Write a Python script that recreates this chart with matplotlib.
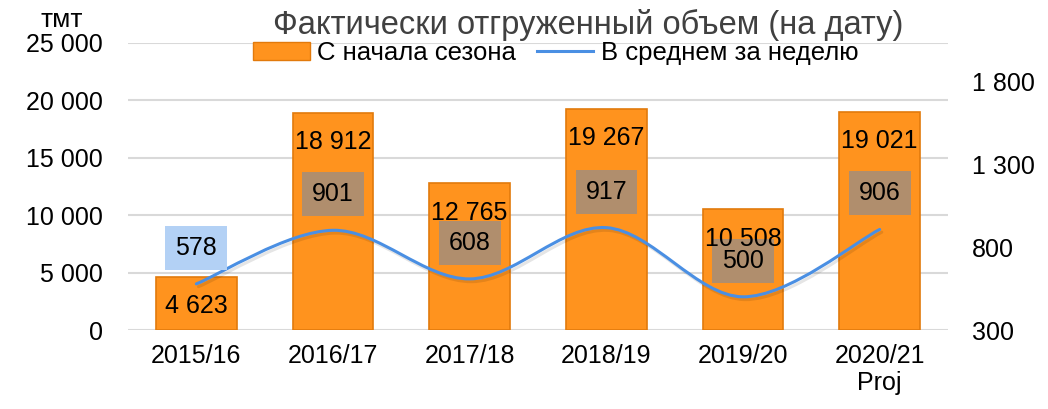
import numpy as np
import matplotlib.pyplot as plt
from matplotlib.path import Path
from matplotlib.patches import PathPatch, Patch
from matplotlib.lines import Line2D
import matplotlib.patheffects as pe

plt.rcParams['font.family'] = ['Liberation Sans', 'DejaVu Sans']

# data
seasons = ['2015/16', '2016/17', '2017/18', '2018/19', '2019/20', '2020/21\nProj']
season_total = [4623, 18912, 12765, 19267, 10508, 19021]   # тмт, from start of season
weekly_avg = [578, 901, 608, 917, 500, 906]               # average per week
left_ticks = [0, 5000, 10000, 15000, 20000, 25000]
right_ticks = [300, 800, 1300, 1800]

FS = 18


def fmt(v):
    return f'{v:,}'.replace(',', ' ')


def smooth_path(xs, ys):
    # catmull-rom -> cubic bezier segments, like a smoothed office line
    pts = np.column_stack([xs, ys]).astype(float)
    ext = np.vstack([pts[0], pts, pts[-1]])
    verts = [pts[0]]
    codes = [Path.MOVETO]
    for i in range(1, len(ext) - 2):
        p0, p1, p2, p3 = ext[i - 1], ext[i], ext[i + 1], ext[i + 2]
        verts += [p1 + (p2 - p0) / 6, p2 - (p3 - p1) / 6, p2]
        codes += [Path.CURVE4] * 3
    return Path(verts, codes)


fig = plt.figure(figsize=(10.48, 4.09), dpi=100)
ax = fig.add_axes([128 / 1048, 1 - 330 / 409, 820 / 1048, 287 / 409])
x = np.arange(len(seasons))

ax.bar(x, season_total, width=0.59, color='#FF931E', edgecolor='#E27A0C',
       linewidth=1.2, zorder=2)
ax.set_xlim(-0.5, len(seasons) - 0.5)
ax.set_ylim(0, 25000)
ax.set_yticks(left_ticks)
ax.set_yticklabels([fmt(t) for t in left_ticks])
ax.set_xticks(x)
ax.set_xticklabels(seasons, linespacing=1.15, va='top')
ax.grid(axis='y', color='#D9D9D9', linewidth=1.5, zorder=0)
ax.set_axisbelow(True)
for s in ax.spines.values():
    s.set_visible(False)
ax.tick_params(axis='y', length=0, pad=18, labelsize=FS)
ax.tick_params(axis='x', length=0, pad=10, labelsize=FS)

ax2 = ax.twinx()
ax2.set_ylim(300, 2030)
ax2.set_yticks(right_ticks)
ax2.set_yticklabels([fmt(t) for t in right_ticks])
ax2.tick_params(axis='y', length=0, pad=17, labelsize=FS)
for s in ax2.spines.values():
    s.set_visible(False)

line_color = '#4A8FE3'
patch = PathPatch(smooth_path(x, weekly_avg), fill=False, edgecolor=line_color,
                  linewidth=2.2, zorder=3, capstyle='round',
                  path_effects=[pe.SimpleLineShadow(offset=(1.5, -2), alpha=0.1,
                                                    shadow_color='black'),
                                pe.Normal()])
ax2.add_patch(patch)

# weekly labels in boxes above the line
for i, v in enumerate(weekly_avg):
    box = '#B3D1F5' if i == 0 else '#B08E6D'
    ax2.annotate(str(v), (i, v), xytext=(0, 26), textcoords='offset points',
                 ha='center', va='center', fontsize=FS, zorder=4,
                 bbox=dict(boxstyle='square,pad=0.4', fc=box, ec='none'))

# season totals just inside top of each bar
for i, v in enumerate(season_total):
    ax2.annotate(fmt(v), (i, v), xycoords=ax.transData, xytext=(0, -21),
                 textcoords='offset points', ha='center', va='center',
                 fontsize=FS, zorder=5)

fig.text(588 / 1048, 1 - 25 / 409, 'Фактически отгруженный объем (на дату)',
         ha='center', va='center', fontsize=23.5, color='#404040')
fig.text(62 / 1048, 1 - 20 / 409, 'тмт', ha='center', va='center', fontsize=19)

handles = [Patch(facecolor='#FF931E', edgecolor='#E27A0C'),
           Line2D([], [], color=line_color, linewidth=2.2)]
fig.legend(handles, ['С начала сезона', 'В среднем за неделю'], ncol=2,
           loc='center', bbox_to_anchor=(556 / 1048, 1 - 53 / 409),
           frameon=False, fontsize=18.5, handlelength=2.2, handletextpad=0.3,
           columnspacing=0.8, borderpad=0, borderaxespad=0)

fig.savefig('out.png', dpi=100)
